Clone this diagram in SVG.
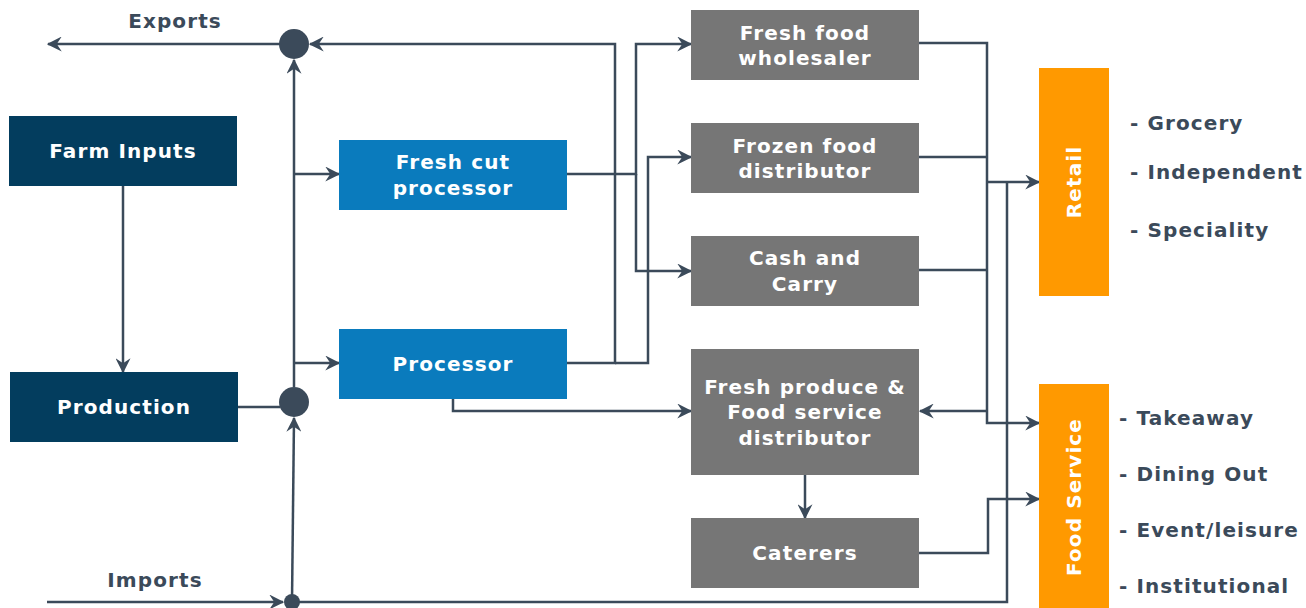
<svg xmlns="http://www.w3.org/2000/svg" width="1306" height="608" viewBox="0 0 1306 608">
  <style>
    .lbl { font-family: "DejaVu Sans", Verdana, sans-serif; font-weight: bold; font-size: 20px; letter-spacing: 1.1px; }
    .w { fill: #ffffff; }
    .d { fill: #3b4a5a; }
    .navy { fill: #033d5e; }
    .blue { fill: #0a7bbd; }
    .grey { fill: #767676; }
    .orange { fill: #ff9900; }
    .con { fill: none; stroke: #3b4a5a; stroke-width: 2.5; }
    .arr { marker-end: url(#ah); }
  </style>
  <defs>
    <marker id="ah" viewBox="0 0 12 12" refX="11" refY="6" markerWidth="6" markerHeight="6" markerUnits="strokeWidth" orient="auto">
      <path d="M0,0 L12,6 L0,12 L4,6 z" fill="#3b4a5a"/>
    </marker>
  </defs>

  <!-- connectors -->
  <g id="connectors">
    <!-- exports / imports -->
    <path class="con arr" d="M280,44 H48"/>
    <path class="con arr" d="M47,602 H283"/>
    <path class="con arr" d="M292,602 L294,418"/>
    <path class="con arr" d="M294,387 V60"/>
    <path class="con arr" d="M294,174 H339"/>
    <path class="con arr" d="M294,363 H339"/>
    <path class="con" d="M238,407 H280"/>
    <!-- farm inputs to production -->
    <path class="con arr" d="M123,186 V372"/>
    <!-- processors to wholesale/distribution -->
    <path class="con arr" d="M567,363 H615 V44 H310"/>
    <path class="con arr" d="M567,174 H636 V44 H691"/>
    <path class="con arr" d="M636,174 V271 H691"/>
    <path class="con arr" d="M615,363 H648 V157 H691"/>
    <path class="con arr" d="M453,398 V411 H691"/>
    <path class="con arr" d="M805,474 V518"/>
    <!-- distribution to retail / food service -->
    <path class="con" d="M919,43 H987 V411"/>
    <path class="con" d="M919,157 H987"/>
    <path class="con" d="M919,270 H987"/>
    <path class="con arr" d="M987,411 H920"/>
    <path class="con arr" d="M987,411 V423 H1039"/>
    <path class="con arr" d="M987,182 H1039"/>
    <path class="con" d="M292,602 H1007 V182"/>
    <path class="con arr" d="M919,553 H988 V499 H1039"/>
    <!-- junctions -->
    <circle cx="294" cy="44" r="15" fill="#3b4a5a"/>
    <circle cx="294" cy="402" r="15" fill="#3b4a5a"/>
    <circle cx="292" cy="602" r="8" fill="#3b4a5a"/>
  </g>

  <text class="lbl d" x="175" y="28" text-anchor="middle">Exports</text>
  <text class="lbl d" x="155" y="587" text-anchor="middle">Imports</text>

  <g id="farm-inputs">
    <rect class="navy" x="9" y="116" width="228" height="70"/>
    <text class="lbl w" x="123" y="158" text-anchor="middle">Farm Inputs</text>
  </g>
  <g id="production">
    <rect class="navy" x="10" y="372" width="228" height="70"/>
    <text class="lbl w" x="124" y="414" text-anchor="middle">Production</text>
  </g>
  <g id="fresh-cut-processor">
    <rect class="blue" x="339" y="140" width="228" height="70"/>
    <text class="lbl w" x="453" y="169" text-anchor="middle">Fresh cut</text>
    <text class="lbl w" x="453" y="195" text-anchor="middle">processor</text>
  </g>
  <g id="processor">
    <rect class="blue" x="339" y="329" width="228" height="70"/>
    <text class="lbl w" x="453" y="371" text-anchor="middle">Processor</text>
  </g>
  <g id="fresh-food-wholesaler">
    <rect class="grey" x="691" y="10" width="228" height="70"/>
    <text class="lbl w" x="805" y="40" text-anchor="middle">Fresh food</text>
    <text class="lbl w" x="805" y="65" text-anchor="middle">wholesaler</text>
  </g>
  <g id="frozen-food-distributor">
    <rect class="grey" x="691" y="123" width="228" height="70"/>
    <text class="lbl w" x="805" y="153" text-anchor="middle">Frozen food</text>
    <text class="lbl w" x="805" y="178" text-anchor="middle">distributor</text>
  </g>
  <g id="cash-and-carry">
    <rect class="grey" x="691" y="236" width="228" height="70"/>
    <text class="lbl w" x="805" y="265" text-anchor="middle">Cash and</text>
    <text class="lbl w" x="805" y="291" text-anchor="middle">Carry</text>
  </g>
  <g id="fresh-produce-distributor">
    <rect class="grey" x="691" y="349" width="228" height="126"/>
    <text class="lbl w" x="805" y="394" text-anchor="middle">Fresh produce &amp;</text>
    <text class="lbl w" x="805" y="419" text-anchor="middle">Food service</text>
    <text class="lbl w" x="805" y="445" text-anchor="middle">distributor</text>
  </g>
  <g id="caterers">
    <rect class="grey" x="691" y="518" width="228" height="70"/>
    <text class="lbl w" x="805" y="560" text-anchor="middle">Caterers</text>
  </g>
  <g id="retail">
    <rect class="orange" x="1039" y="68" width="70" height="228"/>
    <text class="lbl w" transform="translate(1081,182) rotate(-90)" text-anchor="middle">Retail</text>
    <text class="lbl d" x="1130" y="130">- Grocery</text>
    <text class="lbl d" x="1130" y="179">- Independent</text>
    <text class="lbl d" x="1130" y="237">- Speciality</text>
  </g>
  <g id="food-service">
    <rect class="orange" x="1039" y="384" width="70" height="224"/>
    <text class="lbl w" transform="translate(1081,497) rotate(-90)" text-anchor="middle">Food Service</text>
    <text class="lbl d" x="1119" y="425">- Takeaway</text>
    <text class="lbl d" x="1119" y="481">- Dining Out</text>
    <text class="lbl d" x="1119" y="537">- Event/leisure</text>
    <text class="lbl d" x="1119" y="593">- Institutional</text>
  </g>
</svg>
